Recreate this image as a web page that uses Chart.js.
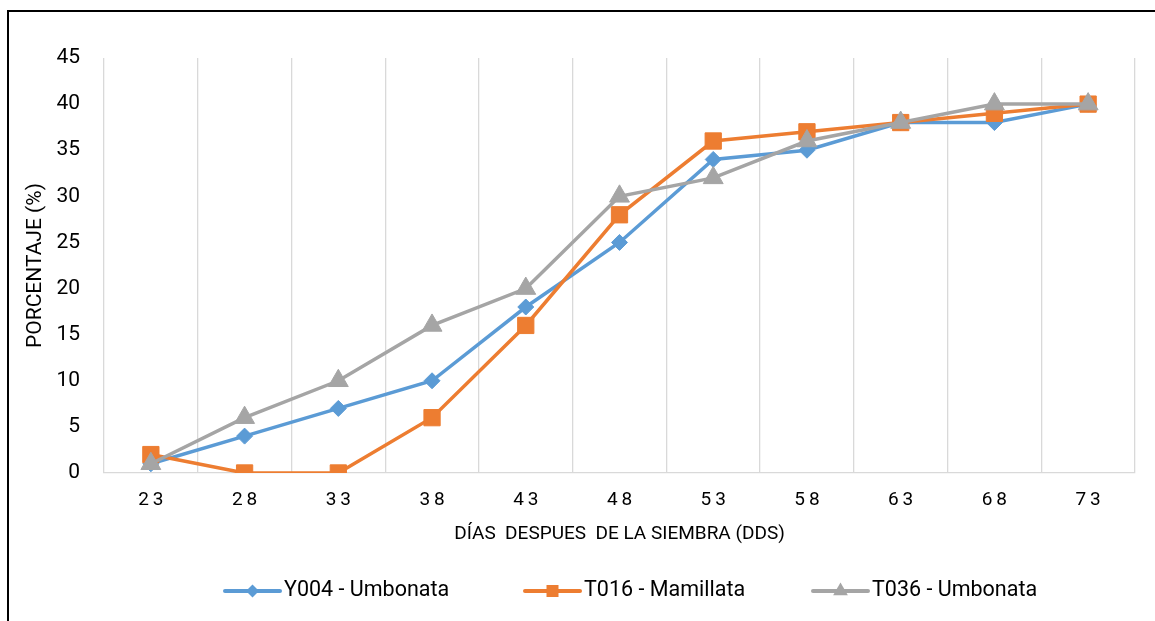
<!DOCTYPE html>
<html>
<head>
<meta charset="utf-8">
<title>Porcentaje por días después de la siembra</title>
<script src="https://cdn.jsdelivr.net/npm/chart.js@4.4.1/dist/chart.umd.min.js"></script>
<style>
  html, body { margin: 0; padding: 0; background: #fff; overflow: hidden; }
  #wrap { width: 1155px; height: 621px; }
</style>
</head>
<body>
<div id="wrap"><canvas id="myChart" width="1155" height="621"></canvas></div>
<script>
// data
const dias = ['23', '28', '33', '38', '43', '48', '53', '58', '63', '68', '73'];
const y004 = [1, 4, 7, 10, 18, 25, 34, 35, 38, 38, 40];
const t016 = [2, 0, 0, 6, 16, 28, 36, 37, 38, 39, 40];
const t036 = [1, 6, 10, 16, 20, 30, 32, 36, 38, 40, 40];
const yTicks = [0, 5, 10, 15, 20, 25, 30, 35, 40, 45];
const seriesNames = ['Y004 - Umbonata', 'T016 - Mamillata', 'T036 - Umbonata'];

const FONT = "Roboto, 'Noto Sans', 'DejaVu Sans', sans-serif";
const blue = '#5B9BD5', orange = '#ED7D31', gray = '#A5A5A5';
const gridColor = '#D9D9D9';

// small marker drawer, used for the legend
function marker(ctx, style, x, y, r, color) {
    ctx.save()
    ctx.fillStyle = color
    ctx.beginPath()
    if (style === 'rectRot') {
        ctx.moveTo(x - r, y); ctx.lineTo(x, y - r); ctx.lineTo(x + r, y); ctx.lineTo(x, y + r)
    } else if (style === 'rect') {
        ctx.rect(x - r, y - r, r * 2, r * 2)
    } else {
        ctx.moveTo(x, y - r)
        ctx.lineTo(x + r * 0.866, y + r * 0.5)
        ctx.lineTo(x - r * 0.866, y + r * 0.5)
    }
    ctx.closePath()
    ctx.fill()
    ctx.restore()
}

const frameAndLegend = {
    id: 'frameAndLegend',
    afterDraw(chart) {
        const ctx = chart.ctx
        // outer frame (only left and top edges are inside the picture)
        ctx.save()
        ctx.strokeStyle = '#000'
        ctx.lineWidth = 2
        ctx.beginPath()
        ctx.moveTo(8, 621); ctx.lineTo(8, 11); ctx.lineTo(1155, 11)
        ctx.stroke()
        ctx.restore()

        // legend: line + marker + text
        const startX = [225, 525, 813]
        const sizes = { rectRot: 6.5, rect: 6, triangle: 8.5 }
        const y = 591
        chart.data.datasets.forEach((ds, i) => {
            const x = startX[i]
            ctx.save()
            ctx.strokeStyle = ds.borderColor
            ctx.lineWidth = 4
            ctx.lineCap = 'round'
            ctx.beginPath()
            ctx.moveTo(x, y); ctx.lineTo(x + 55, y)
            ctx.stroke()
            ctx.restore()
            marker(ctx, ds.pointStyle, x + 27.5, y, sizes[ds.pointStyle], ds.borderColor)
            ctx.save()
            ctx.fillStyle = '#000'
            ctx.font = '21.5px ' + FONT
            ctx.textBaseline = 'middle'
            ctx.fillText(ds.label, x + 59, y)
            ctx.restore()
        })
    }
}

const leftPad = 23

new Chart(document.getElementById('myChart'), {
    type: 'line',
    data: {
        labels: dias,
        datasets: [
            {
                label: seriesNames[0], data: y004, order: 2,
                borderColor: blue, backgroundColor: blue, borderWidth: 3.5,
                pointStyle: 'rectRot', pointRadius: 8, pointBorderWidth: 1,
                pointBackgroundColor: blue, pointBorderColor: blue
            },
            {
                label: seriesNames[1], data: t016, order: 1,
                borderColor: orange, backgroundColor: orange, borderWidth: 3.5,
                pointStyle: 'rect', pointRadius: 11.5, pointBorderWidth: 1,
                pointBackgroundColor: orange, pointBorderColor: orange
            },
            {
                label: seriesNames[2], data: t036, order: 0,
                borderColor: gray, backgroundColor: gray, borderWidth: 3.5,
                pointStyle: 'triangle', pointRadius: 11.5, pointBorderWidth: 1,
                pointBackgroundColor: gray, pointBorderColor: gray
            }
        ]
    },
    options: {
        responsive: false,
        animation: false,
        devicePixelRatio: 1,
        layout: { padding: { left: leftPad, top: 58, right: 20, bottom: 68 } },
        plugins: {
            legend: { display: false },
            tooltip: { enabled: false }
        },
        elements: { line: { tension: 0 } },
        scales: {
            x: {
                offset: true,
                grid: { offset: true, color: gridColor, lineWidth: 1.3, drawTicks: false },
                border: { color: gridColor, width: 1.3 },
                ticks: {
                    color: '#000', padding: 16,
                    font: { family: FONT, size: 19 },
                    callback: function (v) { return this.getLabelForValue(v).split('').join('\u2009') }
                },
                title: {
                    display: true, text: 'DÍAS  DESPUES  DE LA SIEMBRA (DDS)',
                    color: '#000', font: { family: FONT, size: 19 },
                    padding: { top: 0, bottom: 7 }
                },
                afterFit: s => { s.height = 80 }
            },
            y: {
                min: 0, max: 45,
                afterBuildTicks: s => { s.ticks = yTicks.map(v => ({ value: v })) },
                grid: { display: false, drawTicks: false },
                border: { display: false },
                ticks: { color: '#000', padding: 24, font: { family: FONT, size: 21 } },
                title: {
                    display: true, text: 'PORCENTAJE (%)',
                    color: '#000', font: { family: FONT, size: 21 },
                    padding: { top: 0, bottom: 0 }
                },
                afterFit: s => { s.width = 104 - leftPad }
            }
        }
    },
    plugins: [frameAndLegend]
});
</script>
</body>
</html>
